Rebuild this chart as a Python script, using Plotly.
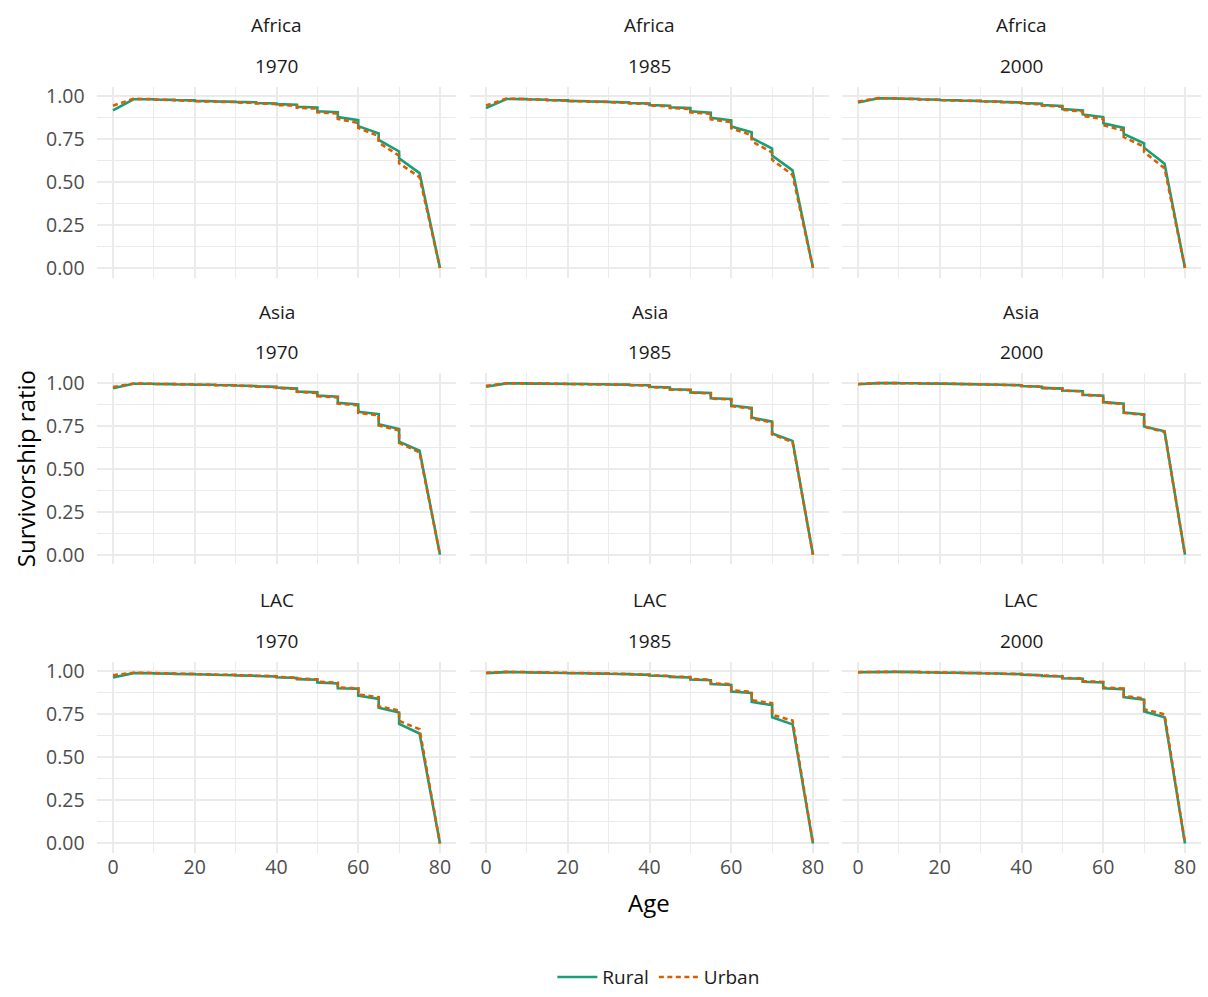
import plotly.graph_objects as go

# Survivorship ratio by 5-year age group: value at the start and at the end of each group
ages = [0, 5, 10, 15, 20, 25, 30, 35, 40, 45, 50, 55, 60, 65, 70, 75]
regions = ["Africa", "Asia", "LAC"]
years = [1970, 1985, 2000]
x_ticks = [0, 20, 40, 60, 80]
y_ticks = [0.0, 0.25, 0.5, 0.75, 1.0]
y_tick_labels = ["0.00", "0.25", "0.50", "0.75", "1.00"]

africa_1970_rural_start = [0.917, 0.981, 0.980, 0.977, 0.972, 0.969, 0.966, 0.960, 0.953, 0.938, 0.912, 0.878, 0.825, 0.745, 0.638, 0.552]
africa_1970_rural_end = [0.981, 0.981, 0.978, 0.975, 0.970, 0.967, 0.964, 0.957, 0.950, 0.934, 0.906, 0.860, 0.783, 0.678, 0.552, 0.000]
africa_1970_urban_start = [0.944, 0.984, 0.980, 0.975, 0.970, 0.967, 0.963, 0.957, 0.948, 0.932, 0.905, 0.867, 0.815, 0.729, 0.609, 0.529]
africa_1970_urban_end = [0.984, 0.982, 0.977, 0.972, 0.968, 0.965, 0.960, 0.954, 0.944, 0.927, 0.898, 0.844, 0.767, 0.653, 0.529, 0.000]

africa_1985_rural_start = [0.930, 0.983, 0.981, 0.977, 0.972, 0.969, 0.966, 0.960, 0.948, 0.935, 0.912, 0.874, 0.823, 0.756, 0.654, 0.568]
africa_1985_rural_end = [0.983, 0.982, 0.979, 0.975, 0.970, 0.967, 0.963, 0.957, 0.944, 0.930, 0.903, 0.859, 0.789, 0.695, 0.568, 0.000]
africa_1985_urban_start = [0.945, 0.985, 0.981, 0.976, 0.971, 0.968, 0.964, 0.958, 0.945, 0.930, 0.905, 0.865, 0.812, 0.737, 0.630, 0.541]
africa_1985_urban_end = [0.985, 0.983, 0.978, 0.973, 0.969, 0.965, 0.961, 0.954, 0.940, 0.925, 0.897, 0.848, 0.773, 0.672, 0.541, 0.000]

africa_2000_rural_start = [0.962, 0.987, 0.985, 0.981, 0.977, 0.974, 0.970, 0.966, 0.960, 0.948, 0.925, 0.893, 0.842, 0.780, 0.700, 0.607]
africa_2000_rural_end = [0.987, 0.986, 0.983, 0.979, 0.975, 0.972, 0.968, 0.963, 0.955, 0.942, 0.916, 0.878, 0.815, 0.725, 0.607, 0.000]
africa_2000_urban_start = [0.968, 0.988, 0.985, 0.980, 0.976, 0.973, 0.969, 0.965, 0.958, 0.945, 0.920, 0.885, 0.830, 0.762, 0.675, 0.580]
africa_2000_urban_end = [0.988, 0.986, 0.982, 0.978, 0.974, 0.971, 0.967, 0.962, 0.952, 0.938, 0.910, 0.867, 0.800, 0.705, 0.580, 0.000]

asia_1970_rural_start = [0.968, 0.994, 0.993, 0.991, 0.989, 0.987, 0.984, 0.979, 0.972, 0.949, 0.925, 0.883, 0.831, 0.759, 0.658, 0.605]
asia_1970_rural_end = [0.994, 0.994, 0.992, 0.990, 0.988, 0.985, 0.981, 0.976, 0.966, 0.944, 0.919, 0.874, 0.818, 0.731, 0.605, 0.000]
asia_1970_urban_start = [0.975, 0.995, 0.993, 0.991, 0.989, 0.986, 0.983, 0.978, 0.970, 0.947, 0.922, 0.879, 0.825, 0.752, 0.650, 0.595]
asia_1970_urban_end = [0.995, 0.994, 0.992, 0.990, 0.987, 0.984, 0.980, 0.974, 0.964, 0.941, 0.915, 0.869, 0.811, 0.723, 0.595, 0.000]

asia_1985_rural_start = [0.977, 0.996, 0.995, 0.994, 0.993, 0.992, 0.990, 0.987, 0.976, 0.962, 0.944, 0.910, 0.868, 0.797, 0.705, 0.662]
asia_1985_rural_end = [0.996, 0.996, 0.995, 0.994, 0.993, 0.991, 0.989, 0.985, 0.972, 0.959, 0.940, 0.906, 0.853, 0.774, 0.662, 0.000]
asia_1985_urban_start = [0.982, 0.997, 0.996, 0.995, 0.993, 0.992, 0.990, 0.986, 0.975, 0.961, 0.942, 0.908, 0.864, 0.792, 0.700, 0.655]
asia_1985_urban_end = [0.997, 0.996, 0.995, 0.994, 0.992, 0.991, 0.988, 0.984, 0.971, 0.957, 0.938, 0.903, 0.849, 0.769, 0.655, 0.000]

asia_2000_rural_start = [0.991, 0.998, 0.997, 0.996, 0.995, 0.994, 0.992, 0.988, 0.981, 0.970, 0.955, 0.930, 0.887, 0.827, 0.746, 0.718]
asia_2000_rural_end = [0.998, 0.998, 0.997, 0.995, 0.994, 0.993, 0.991, 0.985, 0.977, 0.966, 0.951, 0.925, 0.878, 0.816, 0.718, 0.000]
asia_2000_urban_start = [0.993, 0.998, 0.997, 0.996, 0.995, 0.994, 0.992, 0.988, 0.981, 0.970, 0.954, 0.929, 0.885, 0.825, 0.744, 0.714]
asia_2000_urban_end = [0.998, 0.998, 0.997, 0.995, 0.994, 0.993, 0.991, 0.985, 0.977, 0.966, 0.950, 0.924, 0.876, 0.813, 0.714, 0.000]

lac_1970_rural_start = [0.965, 0.990, 0.988, 0.985, 0.983, 0.980, 0.977, 0.973, 0.966, 0.955, 0.936, 0.902, 0.859, 0.789, 0.695, 0.639]
lac_1970_rural_end = [0.990, 0.989, 0.987, 0.984, 0.981, 0.978, 0.975, 0.970, 0.962, 0.952, 0.930, 0.900, 0.840, 0.761, 0.639, 0.000]
lac_1970_urban_start = [0.978, 0.992, 0.990, 0.987, 0.984, 0.981, 0.978, 0.975, 0.968, 0.958, 0.940, 0.906, 0.866, 0.798, 0.712, 0.664]
lac_1970_urban_end = [0.992, 0.991, 0.988, 0.985, 0.982, 0.980, 0.976, 0.972, 0.964, 0.954, 0.934, 0.902, 0.850, 0.773, 0.664, 0.000]

lac_1985_rural_start = [0.990, 0.996, 0.994, 0.992, 0.990, 0.988, 0.986, 0.983, 0.976, 0.968, 0.953, 0.927, 0.883, 0.823, 0.733, 0.692]
lac_1985_rural_end = [0.996, 0.995, 0.993, 0.991, 0.989, 0.987, 0.984, 0.980, 0.972, 0.965, 0.949, 0.921, 0.874, 0.804, 0.692, 0.000]
lac_1985_urban_start = [0.992, 0.997, 0.995, 0.993, 0.991, 0.989, 0.987, 0.984, 0.977, 0.970, 0.956, 0.931, 0.890, 0.832, 0.748, 0.714]
lac_1985_urban_end = [0.997, 0.996, 0.994, 0.992, 0.990, 0.988, 0.985, 0.981, 0.974, 0.967, 0.952, 0.926, 0.881, 0.815, 0.714, 0.000]

lac_2000_rural_start = [0.995, 0.998, 0.997, 0.995, 0.993, 0.991, 0.989, 0.986, 0.981, 0.973, 0.960, 0.940, 0.902, 0.851, 0.767, 0.733]
lac_2000_rural_end = [0.998, 0.997, 0.996, 0.994, 0.992, 0.990, 0.988, 0.984, 0.978, 0.970, 0.957, 0.936, 0.896, 0.836, 0.733, 0.000]
lac_2000_urban_start = [0.996, 0.998, 0.997, 0.995, 0.993, 0.992, 0.990, 0.987, 0.982, 0.975, 0.962, 0.943, 0.906, 0.857, 0.780, 0.750]
lac_2000_urban_end = [0.998, 0.998, 0.996, 0.994, 0.992, 0.991, 0.989, 0.985, 0.979, 0.972, 0.959, 0.939, 0.900, 0.843, 0.750, 0.000]

panel_series = {
    ("Africa", 1970): ((africa_1970_rural_start, africa_1970_rural_end), (africa_1970_urban_start, africa_1970_urban_end)),
    ("Africa", 1985): ((africa_1985_rural_start, africa_1985_rural_end), (africa_1985_urban_start, africa_1985_urban_end)),
    ("Africa", 2000): ((africa_2000_rural_start, africa_2000_rural_end), (africa_2000_urban_start, africa_2000_urban_end)),
    ("Asia", 1970): ((asia_1970_rural_start, asia_1970_rural_end), (asia_1970_urban_start, asia_1970_urban_end)),
    ("Asia", 1985): ((asia_1985_rural_start, asia_1985_rural_end), (asia_1985_urban_start, asia_1985_urban_end)),
    ("Asia", 2000): ((asia_2000_rural_start, asia_2000_rural_end), (asia_2000_urban_start, asia_2000_urban_end)),
    ("LAC", 1970): ((lac_1970_rural_start, lac_1970_rural_end), (lac_1970_urban_start, lac_1970_urban_end)),
    ("LAC", 1985): ((lac_1985_rural_start, lac_1985_rural_end), (lac_1985_urban_start, lac_1985_urban_end)),
    ("LAC", 2000): ((lac_2000_rural_start, lac_2000_rural_end), (lac_2000_urban_start, lac_2000_urban_end)),
}

W, H = 1208, 997
FONT = "Open Sans"
RURAL = "#1B9E77"
URBAN = "#D95F02"
GRID = "#EBEBEB"

# panel boxes in pixels
col_left = [96.65, 469.65, 841.65]
panel_w = 359.7
row_top = [82.25, 371.25, 662.25]
panel_h = 192.5


def group_path(start, end):
    xs, ys = [], []
    for a, s, e in zip(ages, start, end):
        xs += [a, a + 5]
        ys += [s, e]
    return xs, ys


fig = go.Figure()
layout = {}
annotations = []
k = 0
for r, region in enumerate(regions):
    for c, year in enumerate(years):
        k += 1
        xa = "x" if k == 1 else f"x{k}"
        ya = "y" if k == 1 else f"y{k}"
        rural, urban = panel_series[(region, year)]
        for name, (s, e), color, dash in (("Rural", rural, RURAL, "solid"),
                                          ("Urban", urban, URBAN, "5px,3.5px")):
            xs, ys = group_path(s, e)
            fig.add_trace(go.Scatter(
                x=xs, y=ys, mode="lines", name=name, legendgroup=name,
                showlegend=(k == 1), xaxis=xa, yaxis=ya,
                line=dict(color=color, width=2.6, dash=dash),
                hoverinfo="skip"))
        x0 = col_left[c] / W
        x1 = (col_left[c] + panel_w) / W
        y1 = 1 - row_top[r] / H
        y0 = 1 - (row_top[r] + panel_h) / H
        xkey = "xaxis" if k == 1 else f"xaxis{k}"
        ykey = "yaxis" if k == 1 else f"yaxis{k}"
        layout[xkey] = dict(
            domain=[x0, x1], anchor=ya, range=[-4, 84],
            tickvals=x_ticks, showticklabels=(r == 2),
            tickfont=dict(family=FONT, size=19.5, color="#4D4D4D"),
            showgrid=True, gridcolor=GRID, gridwidth=1.5,
            minor=dict(tickvals=[10, 30, 50, 70], showgrid=True, gridcolor=GRID, gridwidth=0.9),
            zeroline=False, showline=False, ticks="", ticklabelstandoff=1)
        layout[ykey] = dict(
            domain=[y0, y1], anchor=xa, range=[-0.055, 1.055],
            tickvals=y_ticks, ticktext=y_tick_labels, showticklabels=(c == 0),
            tickfont=dict(family=FONT, size=19.5, color="#4D4D4D"),
            showgrid=True, gridcolor=GRID, gridwidth=1.5,
            minor=dict(tickvals=[0.125, 0.375, 0.625, 0.875], showgrid=True, gridcolor=GRID, gridwidth=0.9),
            zeroline=False, showline=False, ticks="", ticklabelstandoff=11)
        cx = (col_left[c] + panel_w / 2) / W
        for txt, ypix in ((region, row_top[r] - 62), (str(year), row_top[r] - 21)):
            annotations.append(dict(
                text=txt, x=cx, y=1 - ypix / H, xref="paper", yref="paper",
                xanchor="center", yanchor="middle", showarrow=False,
                font=dict(family=FONT, size=19, color="#1A1A1A")))

annotations.append(dict(
    text="Age", x=(col_left[0] + col_left[2] + panel_w) / 2 / W, y=1 - 905 / H,
    xref="paper", yref="paper", xanchor="center", yanchor="middle", showarrow=False,
    font=dict(family=FONT, size=24, color="#000000")))
annotations.append(dict(
    text="Survivorship ratio", x=25 / W, y=1 - 468 / H, textangle=-90,
    xref="paper", yref="paper", xanchor="center", yanchor="middle", showarrow=False,
    font=dict(family=FONT, size=24, color="#000000")))

fig.update_layout(
    width=W, height=H, margin=dict(l=0, r=0, t=0, b=0),
    paper_bgcolor="white", plot_bgcolor="white",
    annotations=annotations,
    legend=dict(orientation="h", x=0.545, xanchor="center", y=1 - 980 / H, yanchor="middle",
                font=dict(family=FONT, size=19, color="#1A1A1A"), itemwidth=40,
                bgcolor="rgba(0,0,0,0)"),
    **layout)

fig.write_html("out.html")
